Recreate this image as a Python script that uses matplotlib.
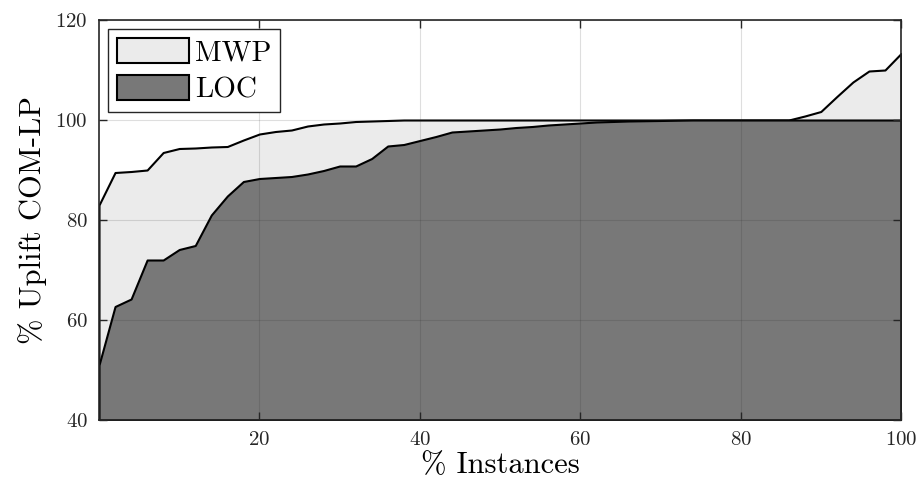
import numpy as np
import matplotlib
matplotlib.use('Agg')
import matplotlib.pyplot as plt

plt.rcParams['font.family'] = ['cmr10', 'DejaVu Serif']
plt.rcParams['axes.formatter.use_mathtext'] = True

# data (x in steps of 2 %)
instances = np.arange(0, 101, 2)
mwp = [83.0, 89.5, 89.7, 90.0, 93.5, 94.3, 94.4, 94.6, 94.7, 96.0,
       97.2, 97.7, 98.0, 98.8, 99.2, 99.4, 99.7, 99.8, 99.9,
       100, 100, 100, 100, 100, 100, 100, 100, 100, 100, 100, 100, 100,
       100, 100, 100, 100, 100, 100, 100, 100, 100, 100, 100, 100,
       100.8, 101.7, 104.7, 107.6, 109.8, 110.0, 113.3]
loc = [51.0, 62.7, 64.2, 72.0, 72.0, 74.1, 74.9, 81.0, 84.8, 87.7,
       88.3, 88.5, 88.7, 89.2, 89.9, 90.8, 90.8, 92.3, 94.8, 95.1,
       95.9, 96.7, 97.6, 97.8, 98.0, 98.2, 98.5, 98.7, 99.0, 99.2,
       99.4, 99.6, 99.7, 99.8, 99.85, 99.9, 99.95,
       100, 100, 100, 100, 100, 100, 100, 100, 100, 100, 100, 100, 100, 100]
labels = ['MWP', 'LOC']
colors = ['#ebebeb', '#787878']
ax_col = '#262626'

fig = plt.figure(figsize=(9.19, 4.91), dpi=100)
ax = fig.add_axes([99/919, 1-420/491, 802/919, 400/491])

for vals, lab, col in zip([mwp, loc], labels, colors):
    ax.fill_between(instances, 40, vals, facecolor=col, edgecolor='black',
                    linewidth=1.5, label=lab, zorder=2)

ax.set_xlim(0, 100)
ax.set_ylim(40, 120)
ax.set_xticks([20, 40, 60, 80, 100])
ax.set_yticks([40, 60, 80, 100, 120])
ax.grid(True, color=ax_col, alpha=0.15, linewidth=0.8, zorder=3)
ax.set_axisbelow(False)
ax.tick_params(direction='in', length=6, width=1, color=ax_col,
               labelcolor=ax_col, labelsize=15, top=True, right=True, pad=8)
for sp in ax.spines.values():
    sp.set_color(ax_col)
    sp.set_linewidth(1.2)
    sp.set_zorder(4)

ax.set_xlabel('% Instances', fontsize=22, labelpad=2)
ax.set_ylabel('% Uplift COM-LP', fontsize=22, labelpad=6)

leg = ax.legend(loc='upper left', fontsize=21, handlelength=2.5,
                handleheight=0.95, labelspacing=0.3, handletextpad=0.2,
                borderpad=0.3, borderaxespad=0.3, fancybox=False,
                framealpha=1)
leg.get_frame().set_edgecolor(ax_col)
leg.get_frame().set_linewidth(1.0)
leg.set_zorder(5)

fig.savefig('out.png', dpi=100)
